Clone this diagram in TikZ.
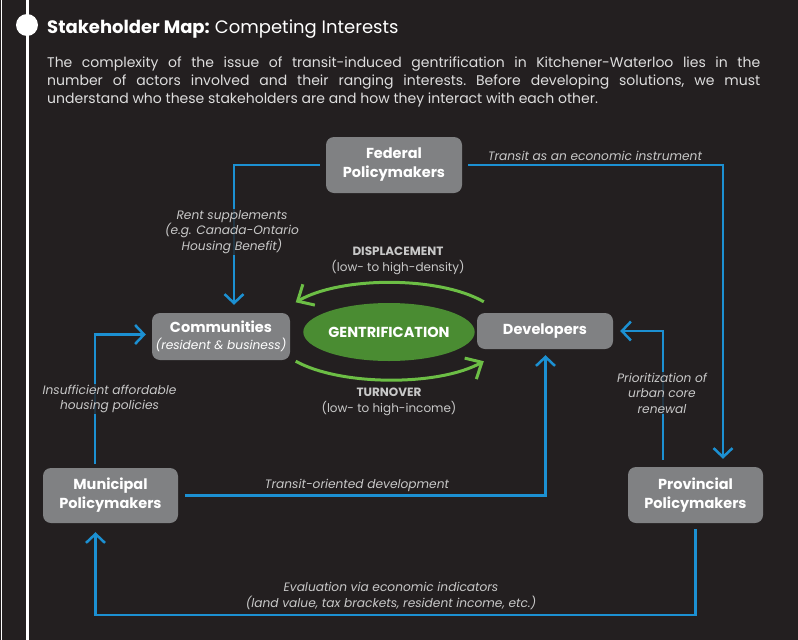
\documentclass[tikz,border=0pt]{standalone}
\usepackage{fontspec}
\setmainfont{Poppins}
\usepackage{tikz}
\usetikzlibrary{arrows.meta}
\usetikzlibrary{positioning}
\usetikzlibrary{shapes.geometric}
\definecolor{bgdark}{RGB}{35,31,32}
\definecolor{boxgray}{RGB}{128,129,131}
\definecolor{flowblue}{RGB}{28,144,210}
\definecolor{gentgreen}{RGB}{74,140,50}
\definecolor{cyclegreen}{RGB}{108,190,69}
\definecolor{lblgray}{RGB}{200,200,200}
\tikzstyle{actor}=[rounded corners=8pt,fill=boxgray,text=white,align=center,
                inner sep=0,minimum width=136pt,minimum height=56pt,
                font=\fontsize{14.5}{19}\selectfont\bfseries]
\tikzstyle{flow}=[draw=flowblue,line width=2.5pt,-{Straight Barb[length=9pt,width=19pt]}]
\tikzstyle{cycle}=[draw=cyclegreen,line width=3pt,-{Straight Barb[length=13pt,width=24pt]}]
\tikzstyle{lbl}=[text=lblgray,align=center,inner sep=1pt,fill=bgdark,fill opacity=0.8,
                text opacity=1,font=\fontsize{12.2}{15.5}\selectfont\itshape]
\tikzstyle{cyclbl}=[text=lblgray,align=center,inner sep=0,
                font=\fontsize{12}{15.5}\selectfont]
\begin{document}
\begin{tikzpicture}[x=1pt,y=-1pt]
\useasboundingbox (0,0) rectangle (798,640);
\fill[bgdark] (0,0) rectangle (798,640);
\draw[white,line width=1pt] (1.5,0) -- (1.5,640);
\draw[white,line width=2.5pt] (27.5,0) -- (27.5,640);
\fill[white] (27,25) circle (11pt);
\node at (47,33)[anchor=base west,inner sep=0,text=white,font=\fontsize{18}{22}\selectfont] (title)
  {\bfseries Stakeholder Map: \mdseries Competing Interests};
\node at (47,56.5)[anchor=north west,inner sep=0,text width=713pt,align=justify,text=lblgray!60!white,
  font=\fontsize{14}{18.2}\selectfont\frenchspacing] (intro)
  {The complexity of the issue of transit-induced gentrification in
  Kitchener-Waterloo lies in the\linebreak number of actors involved and their ranging interests.
  Before developing solutions, we must\linebreak understand who these stakeholders are and how they
  interact with each other.};
\node[actor] (fed) at (394,165) {Federal\\Policymakers};
\node[actor,minimum width=138pt,minimum height=47pt] (comm) at (221,336.5)
  {Communities\\[-2pt]{\fontsize{12.2}{15}\selectfont\mdseries\itshape (resident \& business)}};
\node[actor,minimum height=36pt] (dev) at (545,331) {Developers};
\node[ellipse,fill=gentgreen,text=white,inner sep=0,minimum width=138pt,minimum height=58pt,
  font=\fontsize{14.5}{18}\selectfont\bfseries] (gent) at (389,332) {GENTRIFICATION};
\node[actor,minimum width=135pt,minimum height=55pt] (muni) at (110.5,495.5) {Municipal\\Policymakers};
\node[actor,minimum width=135pt] (prov) at (695.5,495) {Provincial\\Policymakers};
\draw[flow] ([xshift=-6pt]fed.west) -| ([xshift=13pt,yshift=8pt]comm.north);
\draw[flow] ([xshift=6pt]fed.east) -| ([xshift=27.5pt,yshift=8pt]prov.north);
\draw[flow] ([xshift=-15.5pt,yshift=4pt]muni.north) |- ([xshift=-6pt,yshift=2pt]comm.west);
\draw[flow] ([xshift=7pt]muni.east) -| ([xshift=0.5pt,yshift=-6pt]dev.south);
\draw[flow] ([xshift=-32.5pt,yshift=7pt]prov.north) |- ([xshift=7pt]dev.east);
\draw[flow] ([yshift=-6pt]prov.south) -- ++(0,86) -| ([xshift=-15pt,yshift=-9pt]muni.south);
\draw[cycle] ([xshift=7pt,yshift=11pt]dev.north west) .. controls +(-45,-26) and +(45,-26)
  .. ([xshift=5.5pt,yshift=10.5pt]comm.north east);
\draw[cycle] ([xshift=5.5pt,yshift=-1pt]comm.south east) .. controls +(45,25) and +(-45,25)
  .. ([xshift=7pt,yshift=-12pt]dev.south west);
\node[cyclbl] (displ) at (398,261) {\bfseries DISPLACEMENT\\(low- to high-density)};
\node[cyclbl] (turn) at (389,402) {\bfseries TURNOVER\\(low- to high-income)};
\node[lbl,fill=none] (instr) at (595,156) {Transit as an economic instrument};
\node[lbl] (rent) at (232,232) {Rent supplements\\(e.g. Canada-Ontario\\Housing Benefit)};
\node[lbl] (insuff) at (109.5,399) {Insufficient affordable\\housing policies};
\node[lbl] (prior) at (662,393) {Prioritization of\\urban core\\renewal};
\node[lbl,fill=none] (tod) at (357,485) {Transit-oriented development};
\node[lbl,fill=none] (evalu) at (391,596) {Evaluation via economic indicators\\(land value, tax brackets, resident income, etc.)};
\end{tikzpicture}
\end{document}
